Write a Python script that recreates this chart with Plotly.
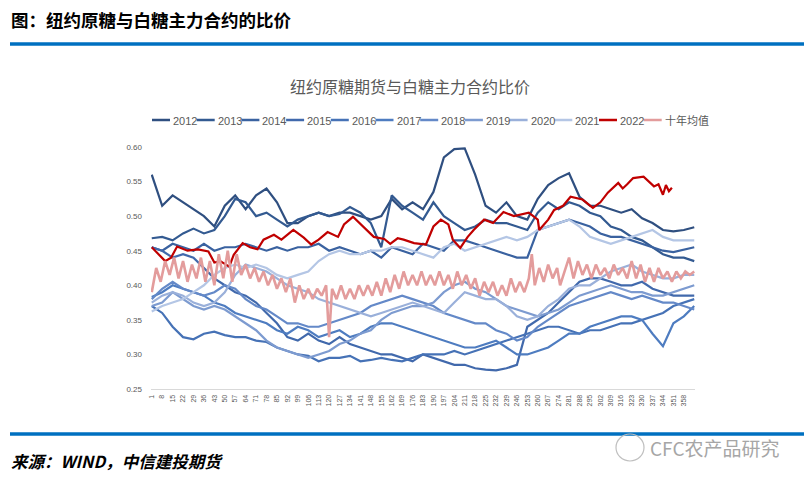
import plotly.graph_objects as go

# ---------------- data ----------------
sample_days = [1, 8, 15, 22, 29, 36, 43, 50, 57, 64, 71, 78, 85, 92, 99, 106, 113, 120, 127, 134,
               141, 148, 155, 162, 169, 176, 183, 190, 197, 204, 211, 218, 225, 232, 239, 246, 253,
               260, 267, 274, 281, 288, 295, 302, 309, 316, 323, 330, 337, 344, 351, 358, 365]

y2012 = [0.560,0.515,0.530,0.520,0.510,0.500,0.485,0.515,0.530,0.510,0.530,0.540,0.520,0.490,0.490,0.500,0.505,0.500,0.505,0.505,
         0.500,0.495,0.500,0.525,0.510,0.520,0.510,0.535,0.585,0.597,0.598,0.560,0.515,0.505,0.520,0.500,0.495,0.525,0.545,0.555,
         0.562,0.528,0.515,0.515,0.510,0.505,0.510,0.497,0.490,0.480,0.478,0.480,0.484]
y2013 = [0.468,0.470,0.465,0.475,0.482,0.475,0.480,0.500,0.525,0.520,0.500,0.505,0.495,0.485,0.495,0.500,0.505,0.500,0.503,0.513,
         0.505,0.490,0.455,0.530,0.515,0.505,0.495,0.520,0.500,0.490,0.480,0.485,0.495,0.490,0.490,0.485,0.480,0.505,0.520,0.510,
         0.520,0.515,0.505,0.500,0.485,0.480,0.470,0.465,0.455,0.445,0.440,0.440,0.435]
y2014 = [0.455,0.450,0.460,0.455,0.450,0.460,0.450,0.455,0.455,0.460,0.455,0.450,0.455,0.450,0.455,0.455,0.460,0.450,0.455,0.450,
         0.445,0.450,0.440,0.455,0.450,0.445,0.460,0.455,0.450,0.465,0.465,0.460,0.455,0.450,0.445,0.440,0.440,0.480,0.485,0.490,
         0.495,0.490,0.485,0.475,0.470,0.470,0.465,0.460,0.455,0.450,0.448,0.452,0.455]
y2015 = [0.455,0.450,0.440,0.445,0.440,0.425,0.410,0.400,0.390,0.385,0.375,0.360,0.345,0.325,0.320,0.330,0.320,0.315,0.325,0.315,
         0.310,0.305,0.300,0.300,0.295,0.290,0.300,0.295,0.290,0.285,0.285,0.280,0.278,0.277,0.280,0.285,0.340,0.350,0.360,0.375,
         0.390,0.405,0.410,0.410,0.405,0.400,0.400,0.405,0.395,0.390,0.385,0.385,0.385]
y2016 = [0.370,0.360,0.340,0.325,0.322,0.330,0.333,0.328,0.325,0.325,0.320,0.318,0.310,0.305,0.300,0.298,0.290,0.295,0.295,0.298,
         0.290,0.292,0.295,0.292,0.290,0.295,0.300,0.300,0.300,0.305,0.300,0.305,0.310,0.315,0.320,0.325,0.330,0.335,0.340,0.340,
         0.335,0.330,0.335,0.335,0.340,0.345,0.345,0.350,0.355,0.360,0.370,0.375,0.380]
y2017 = [0.383,0.390,0.400,0.395,0.390,0.385,0.375,0.370,0.360,0.355,0.350,0.345,0.335,0.330,0.340,0.335,0.325,0.330,0.335,0.325,
         0.330,0.340,0.345,0.345,0.340,0.335,0.330,0.325,0.320,0.315,0.310,0.310,0.315,0.320,0.310,0.300,0.300,0.305,0.310,0.320,
         0.330,0.330,0.340,0.345,0.350,0.355,0.355,0.350,0.330,0.312,0.345,0.355,0.370]
y2018 = [0.380,0.395,0.405,0.395,0.390,0.385,0.390,0.400,0.395,0.380,0.370,0.365,0.355,0.345,0.345,0.340,0.340,0.345,0.350,0.355,
         0.360,0.370,0.375,0.380,0.385,0.380,0.375,0.370,0.360,0.355,0.350,0.345,0.345,0.335,0.330,0.320,0.325,0.340,0.350,0.360,
         0.370,0.375,0.380,0.385,0.390,0.385,0.380,0.385,0.380,0.375,0.375,0.370,0.365]
y2019 = [0.370,0.375,0.390,0.380,0.370,0.365,0.370,0.365,0.355,0.345,0.335,0.320,0.310,0.305,0.300,0.295,0.300,0.305,0.315,0.320,
         0.330,0.335,0.350,0.360,0.365,0.370,0.370,0.375,0.390,0.400,0.405,0.395,0.390,0.380,0.370,0.365,0.360,0.355,0.360,0.365,
         0.375,0.385,0.390,0.395,0.400,0.395,0.390,0.390,0.385,0.385,0.390,0.395,0.400]
y2020 = [0.375,0.385,0.390,0.385,0.375,0.370,0.375,0.390,0.415,0.430,0.425,0.420,0.410,0.400,0.395,0.390,0.380,0.375,0.370,0.365,
         0.360,0.355,0.360,0.365,0.370,0.375,0.370,0.365,0.360,0.375,0.390,0.385,0.380,0.380,0.370,0.355,0.350,0.355,0.370,0.380,
         0.395,0.400,0.400,0.410,0.420,0.425,0.430,0.420,0.415,0.410,0.410,0.415,0.415]
y2021 = [0.362,0.370,0.375,0.380,0.390,0.400,0.415,0.425,0.430,0.425,0.430,0.425,0.415,0.410,0.415,0.420,0.435,0.445,0.450,0.445,
         0.445,0.450,0.450,0.455,0.455,0.450,0.445,0.440,0.455,0.460,0.450,0.455,0.460,0.465,0.470,0.465,0.470,0.480,0.485,0.490,
         0.495,0.485,0.470,0.465,0.460,0.465,0.470,0.475,0.480,0.470,0.465,0.465,0.465]

days_2022 = [1, 6, 10, 14, 18, 25, 32, 39, 43, 47, 53, 56, 62, 67, 72, 76, 83, 88, 96, 103, 108, 113, 119, 126,
             130, 136, 143, 150, 157, 161, 166, 170, 177, 185, 190, 195, 200, 203, 208, 213, 217, 224, 230,
             237, 244, 249, 254, 260, 261, 267, 271, 277, 282, 290, 297, 302, 307, 314, 317, 320, 324, 331,
             338, 341, 344, 346, 348, 350]
y2022 = [0.455,0.444,0.435,0.440,0.456,0.450,0.452,0.449,0.433,0.435,0.427,0.444,0.461,0.455,0.452,0.466,0.473,0.466,
         0.480,0.469,0.459,0.466,0.477,0.470,0.488,0.499,0.485,0.470,0.467,0.460,0.468,0.466,0.461,0.459,0.485,0.495,
         0.488,0.466,0.454,0.470,0.480,0.495,0.490,0.506,0.500,0.503,0.505,0.495,0.480,0.495,0.509,0.515,0.528,0.524,
         0.512,0.520,0.534,0.548,0.540,0.546,0.555,0.557,0.543,0.546,0.531,0.545,0.536,0.541]

days_avg = [1, 4, 7, 10, 13, 16, 19, 22, 25, 28, 31, 34, 37, 40, 43, 46, 49, 52, 55, 58, 61, 64, 67, 70, 73, 76,
            79, 82, 85, 88, 91, 94, 97, 100, 103, 106, 109, 112, 115, 118, 120, 122, 125, 128, 131, 134, 137,
            140, 143, 146, 149, 152, 155, 158, 161, 164, 167, 170, 173, 176, 179, 182, 185, 188, 191, 194, 197,
            200, 203, 206, 209, 212, 215, 218, 221, 224, 227, 230, 233, 236, 239, 242, 245, 248, 251, 254, 256,
            258, 261, 264, 267, 270, 273, 275, 278, 281, 284, 287, 290, 293, 296, 299, 302, 305, 308, 311, 314,
            317, 320, 323, 326, 329, 332, 335, 338, 341, 344, 347, 350, 353, 356, 359, 362, 365]
y_avg = [0.390,0.425,0.405,0.435,0.415,0.440,0.410,0.435,0.405,0.430,0.410,0.440,0.405,0.435,0.400,0.445,0.410,0.450,
         0.405,0.445,0.415,0.430,0.410,0.425,0.405,0.420,0.400,0.415,0.395,0.410,0.390,0.410,0.375,0.400,0.380,0.395,
         0.380,0.395,0.385,0.400,0.325,0.395,0.380,0.400,0.380,0.395,0.380,0.400,0.385,0.400,0.385,0.405,0.385,0.410,
         0.390,0.415,0.395,0.420,0.400,0.415,0.400,0.420,0.400,0.415,0.400,0.420,0.400,0.415,0.395,0.420,0.400,0.415,
         0.395,0.410,0.385,0.405,0.390,0.405,0.385,0.400,0.385,0.410,0.390,0.405,0.390,0.410,0.445,0.400,0.425,0.405,
         0.430,0.410,0.425,0.400,0.420,0.440,0.410,0.435,0.415,0.430,0.410,0.430,0.415,0.425,0.410,0.430,0.415,0.425,
         0.410,0.435,0.410,0.430,0.405,0.425,0.405,0.425,0.410,0.420,0.405,0.420,0.410,0.420,0.415,0.420]

series_names = ["2012", "2013", "2014", "2015", "2016", "2017", "2018", "2019", "2020", "2021", "2022", "十年均值"]
series_x = [sample_days] * 10 + [days_2022, days_avg]
series_y = [y2012, y2013, y2014, y2015, y2016, y2017, y2018, y2019, y2020, y2021, y2022, y_avg]
colors = ["#2F4F80", "#335A91", "#3A62A0", "#4169AC", "#4672B6", "#4E7CC0",
          "#6489C8", "#7D9BD0", "#9AB0DA", "#B4C6E5", "#C00000", "#E39C9C"]
widths = [2.2] * 10 + [2.2, 2.6]

x_ticks = list(range(1, 359, 7))

# ---------------- layout helpers (page pixel -> paper) ----------------
OFF = 8                      # page body margin around the plot div
W, H = 812 - OFF, 483 - OFF
PL, PR, PT, PB = 151 - OFF, 695 - OFF, 147 - OFF, 389 - OFF


def px(x):
    return (x - OFF - PL) / (PR - PL)


def py(y):
    return (PB - (y - OFF)) / (PB - PT)


fig = go.Figure()
for name, xs, ys, c, w in zip(series_names, series_x, series_y, colors, widths):
    fig.add_trace(go.Scatter(x=xs, y=ys, mode="lines", name=name, showlegend=False,
                             line=dict(color=c, width=w)))

shapes = []
annotations = []

# header / footer rules
shapes.append(dict(type="line", xref="paper", yref="paper", x0=px(10), x1=px(812), y0=py(44), y1=py(44),
                   line=dict(color="#0070C0", width=3.5)))
shapes.append(dict(type="line", xref="paper", yref="paper", x0=px(10), x1=px(812), y0=py(434), y1=py(434),
                   line=dict(color="#0070C0", width=3.5)))

annotations.append(dict(text="<b>图：纽约原糖与白糖主力合约的比价</b>", xref="paper", yref="paper",
                        x=px(9), y=py(19), xanchor="left", yanchor="middle", showarrow=False,
                        font=dict(family="Noto Sans CJK SC", size=17.5, color="#000000")))
annotations.append(dict(text="纽约原糖期货与白糖主力合约比价", xref="paper", yref="paper",
                        x=px(410), y=py(86), xanchor="center", yanchor="middle", showarrow=False,
                        font=dict(family="Noto Sans CJK SC", size=16, color="#595959")))
annotations.append(dict(text="<b><i>来源：WIND，中信建投期货</i></b>", xref="paper", yref="paper",
                        x=px(9), y=py(461), xanchor="left", yanchor="middle", showarrow=False,
                        font=dict(family="Noto Sans CJK SC", size=16.5, color="#000000")))
annotations.append(dict(text="CFC农产品研究", xref="paper", yref="paper",
                        x=px(648), y=py(447), xanchor="left", yanchor="middle", showarrow=False,
                        font=dict(family="Noto Sans CJK SC", size=19, color="#A6A6A6")))
shapes.append(dict(type="circle", xref="paper", yref="paper", x0=px(616), x1=px(644), y0=py(461), y1=py(434),
                   line=dict(color="#BFBFBF", width=1.2)))

# manual legend
for i, (name, c) in enumerate(zip(series_names, colors)):
    x0 = 152 + 44.7 * i
    shapes.append(dict(type="line", xref="paper", yref="paper", x0=px(x0), x1=px(x0 + 18),
                       y0=py(120), y1=py(120), line=dict(color=c, width=2.5)))
    annotations.append(dict(text=name, xref="paper", yref="paper", x=px(x0 + 19), y=py(120.5),
                            xanchor="left", yanchor="middle", showarrow=False,
                            font=dict(family="Liberation Sans Narrow, Liberation Sans, Noto Sans CJK SC",
                                      size=11, color="#595959")))

fig.update_layout(
    width=W, height=H,
    margin=dict(l=PL, r=W - PR, t=PT, b=H - PB, pad=0),
    paper_bgcolor="white", plot_bgcolor="white",
    font=dict(family="Liberation Sans, Noto Sans CJK SC", color="#595959"),
    shapes=shapes, annotations=annotations,
    xaxis=dict(range=[0.5, 365.5], tickmode="array", tickvals=x_ticks, ticktext=[str(t) for t in x_ticks],
               tickangle=-90, tickfont=dict(size=7, color="#595959"), showgrid=False, zeroline=False,
               showline=True, linecolor="#D9D9D9", linewidth=1, ticks="", ticklabelstandoff=2),
    yaxis=dict(range=[0.25, 0.60], dtick=0.05, tick0=0.25, tickformat=".2f",
               tickfont=dict(size=8, color="#595959"), showgrid=False, zeroline=False,
               showline=False, ticks="", ticklabelstandoff=8),
)

fig.write_html("out.html")
